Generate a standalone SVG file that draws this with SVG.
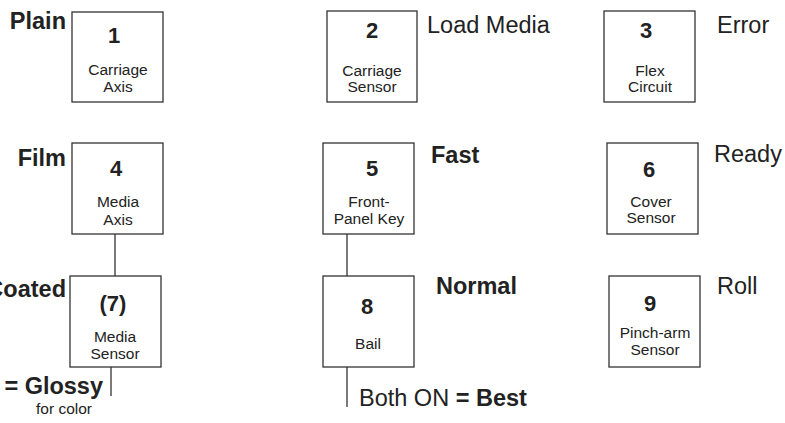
<svg xmlns="http://www.w3.org/2000/svg" width="785" height="423" viewBox="0 0 785 423">
<style>
.box{fill:#fff;stroke:#333;stroke-width:1.3}
.conn{stroke:#333;stroke-width:1.3;fill:none}
text{font-family:"Liberation Sans",Arial,sans-serif;fill:#222}
.num{font-size:22px;font-weight:bold;text-anchor:middle}
.sm{font-size:15.5px;text-anchor:middle}
.lg{font-size:23.5px}
.b{font-weight:bold}
.end{text-anchor:end}
</style>
<rect width="785" height="423" fill="#fff"/>
<g id="connectors">
<line class="conn" x1="115" y1="234" x2="115" y2="276"/>
<line class="conn" x1="111" y1="367" x2="111" y2="396"/>
<line class="conn" x1="347" y1="234" x2="347" y2="276"/>
<line class="conn" x1="347" y1="367" x2="347" y2="407"/>
</g>
<g id="node1">
<rect class="box" x="72" y="12" width="91" height="90"/>
<text class="num" x="114" y="43">1</text>
<text class="sm" x="118" y="75">Carriage</text>
<text class="sm" x="118" y="92">Axis</text>
<text class="lg b end" x="66" y="29">Plain</text>
</g>
<g id="node2">
<rect class="box" x="327" y="11" width="90" height="91"/>
<text class="num" x="372" y="38">2</text>
<text class="sm" x="372" y="76">Carriage</text>
<text class="sm" x="372" y="92">Sensor</text>
<text class="lg" x="427" y="33">Load Media</text>
</g>
<g id="node3">
<rect class="box" x="604" y="11" width="91" height="91"/>
<text class="num" x="646" y="38">3</text>
<text class="sm" x="650" y="76">Flex</text>
<text class="sm" x="650" y="92">Circuit</text>
<text class="lg" x="717" y="33">Error</text>
</g>
<g id="node4">
<rect class="box" x="72" y="143" width="91" height="91"/>
<text class="num" x="116" y="176">4</text>
<text class="sm" x="118" y="207">Media</text>
<text class="sm" x="118" y="225">Axis</text>
<text class="lg b end" x="66" y="166">Film</text>
</g>
<g id="node5">
<rect class="box" x="323" y="143" width="91" height="91"/>
<text class="num" x="372" y="176">5</text>
<text class="sm" x="369" y="207">Front-</text>
<text class="sm" x="369" y="224">Panel Key</text>
<text class="lg b" x="431" y="163">Fast</text>
</g>
<g id="node6">
<rect class="box" x="607" y="143" width="91" height="91"/>
<text class="num" x="649" y="177">6</text>
<text class="sm" x="651" y="207">Cover</text>
<text class="sm" x="651" y="223">Sensor</text>
<text class="lg" x="714" y="162">Ready</text>
</g>
<g id="node7">
<rect class="box" x="70" y="276" width="91" height="91"/>
<text class="num" x="113" y="311">(7)</text>
<text class="sm" x="115" y="342">Media</text>
<text class="sm" x="115" y="359">Sensor</text>
<text class="lg b end" x="66" y="297">Coated</text>
<text class="lg b end" x="103" y="394">= Glossy</text>
<text class="sm" x="64" y="414">for color</text>
</g>
<g id="node8">
<rect class="box" x="323" y="276" width="91" height="91"/>
<text class="num" x="367" y="314">8</text>
<text class="sm" x="368" y="349">Bail</text>
<text class="lg b" x="436" y="294">Normal</text>
<text class="lg" x="359" y="406">Both ON <tspan class="b">= Best</tspan></text>
</g>
<g id="node9">
<rect class="box" x="609" y="276" width="91" height="91"/>
<text class="num" x="650" y="311">9</text>
<text class="sm" x="655" y="338">Pinch-arm</text>
<text class="sm" x="655" y="355">Sensor</text>
<text class="lg" x="717" y="294">Roll</text>
</g>
</svg>
